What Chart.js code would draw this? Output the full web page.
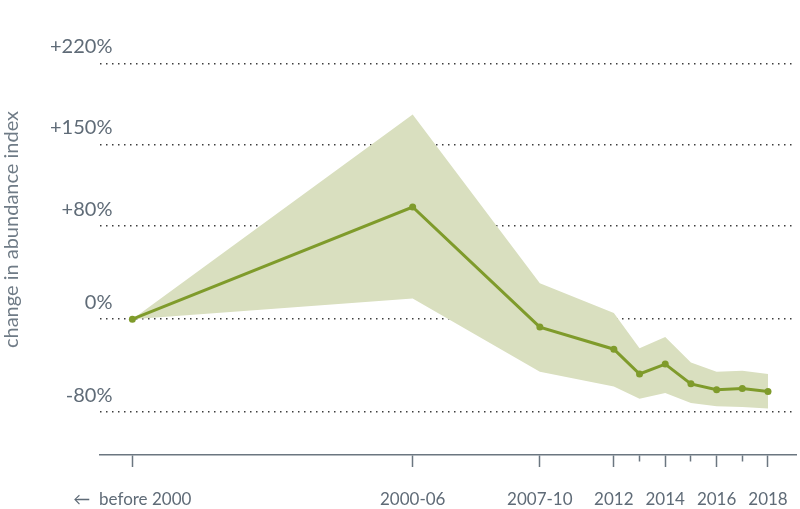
<!DOCTYPE html>
<html>
<head>
<meta charset="utf-8">
<script src="https://cdn.jsdelivr.net/npm/chart.js"></script>
<style>
  body { margin: 0; background: #fff; }
</style>
</head>
<body>
<canvas id="myChart" width="800" height="509"></canvas>
<script>
// positions on the time axis (years, first two are period centres)
const xPos = [1993.26, 2004.17, 2009.12, 2012, 2013, 2014, 2015, 2016, 2017, 2018];
const indexMid = [0, 96.5, -6.8, -25.8, -47.1, -38.6, -55.6, -60.7, -59.6, -62.1];
const indexUpper = [0, 176, 30.9, 5.4, -24.9, -15.3, -37.2, -45.1, -44.3, -47.1];
const indexLower = [0, 17.9, -45.1, -57.9, -68.4, -63.5, -72.1, -74.9, -75.5, -76.9];

const xTickVals = [1993.26, 2004.17, 2009.12, 2012, 2013, 2014, 2015, 2016, 2017, 2018];
const xTickLabels = ['\u2190  before 2000', '2000-06', '2007-10', '2012', '', '2014', '', '2016', '', '2018'];
const yTickVals = [-80, 0, 80, 150, 220];

const textColor = '#5f6b77';
const axisColor = '#6b7680';
const green = '#7f9b2b';
const band = '#d9dfbf';

const pts = ys => xPos.map((x, i) => ({x: x, y: ys[i]}));

const ctx = document.getElementById('myChart');

new Chart(ctx, {
  type: 'line',
  data: {
    datasets: [
      {
        label: 'lower',
        data: pts(indexLower),
        borderWidth: 0,
        pointRadius: 0,
        fill: false,
        order: 2,
      },
      {
        label: 'upper',
        data: pts(indexUpper),
        borderWidth: 0,
        pointRadius: 0,
        backgroundColor: band,
        fill: '-1',
        order: 2,
      },
      {
        label: 'change in abundance index',
        data: pts(indexMid),
        borderColor: green,
        borderWidth: 3,
        pointRadius: 3.5,
        pointBackgroundColor: green,
        pointBorderWidth: 0,
        fill: false,
        order: 1,
      },
    ],
  },
  options: {
    responsive: false,
    animation: false,
    plugins: {
      legend: {display: false},
      tooltip: {enabled: false},
    },
    layout: {padding: 0},
    scales: {
      x: {
        type: 'linear',
        min: 1992,
        max: 2019.09,
        afterBuildTicks: scale => {
          scale.ticks = xTickVals.map(v => ({value: v}));
        },
        afterFit: scale => {
          scale.height = 54;
          scale.paddingLeft = 0;
          scale.paddingRight = 0;
        },
        ticks: {
          autoSkip: false,
          maxRotation: 0,
          padding: 22,
          color: textColor,
          font: {family: 'Lato', size: 17},
          callback: (v, i) => xTickLabels[i],
        },
        grid: {
          drawOnChartArea: false,
          drawTicks: true,
          tickLength: 12,
          tickColor: axisColor,
          tickWidth: 1.5,
          tickBorderDash: c => (xTickLabels[c.index] === '' ? [6, 30] : []),
        },
        border: {display: true, color: axisColor, width: 1.5},
      },
      y: {
        min: -116.8,
        max: 271.1,
        afterBuildTicks: scale => {
          scale.ticks = yTickVals.map(v => ({value: v}));
        },
        afterFit: scale => {
          scale.width = 100;
          scale.paddingTop = 0;
          scale.paddingBottom = 0;
        },
        ticks: {
          mirror: true,
          crossAlign: 'far',
          padding: -50,
          labelOffset: -17,
          color: textColor,
          font: {family: 'Lato', size: 20},
          callback: v => (v > 0 ? '+' : '') + v + '%',
        },
        grid: {
          drawTicks: false,
          color: '#3d3d3d',
          lineWidth: 1.5,
        },
        border: {display: false, dash: [1.5, 4.5]},
        title: {
          display: true,
          text: 'change in abundance index',
          color: '#6f7b86',
          font: {family: 'Lato', size: 20},
          padding: 0,
        },
      },
    },
  },
});
</script>
</body>
</html>
